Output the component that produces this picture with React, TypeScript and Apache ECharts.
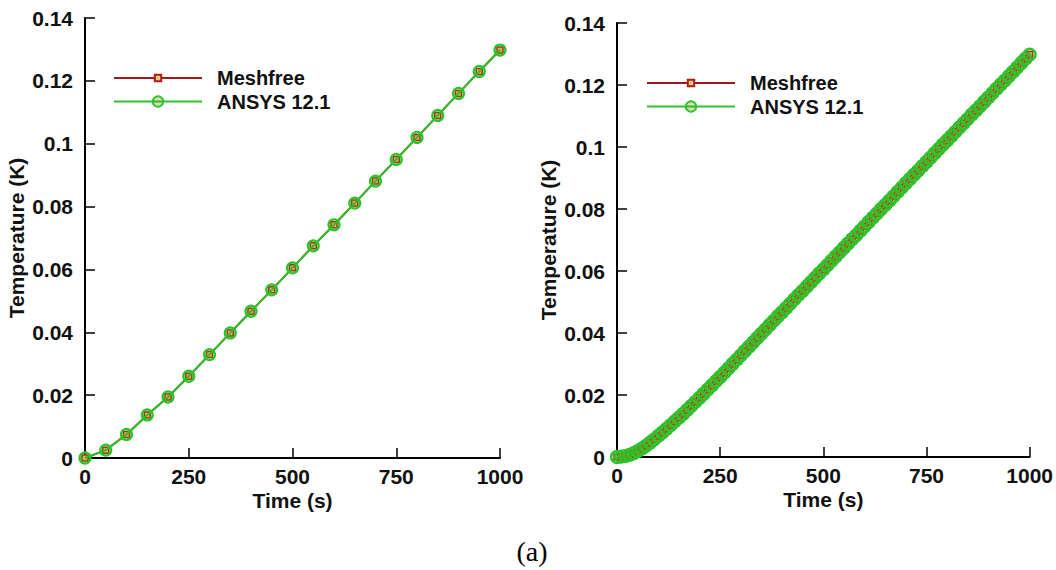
import React, { useEffect, useRef } from "react";
import * as echarts from "echarts";

// Coarse output (every 50 s)
const timeCoarse = [0, 50, 100, 150, 200, 250, 300, 350, 400, 450, 500, 550, 600, 650, 700, 750, 800, 850, 900, 950, 1000];
const meshfreeCoarse = [0, 0.0025, 0.0075, 0.0137, 0.0194, 0.026, 0.0329, 0.0398, 0.0467, 0.0535, 0.0605, 0.0675, 0.0742, 0.0811, 0.0881, 0.095, 0.102, 0.109, 0.116, 0.123, 0.1298];
const ansysCoarse = [0, 0.0025, 0.0075, 0.0137, 0.0194, 0.026, 0.0329, 0.0398, 0.0467, 0.0535, 0.0605, 0.0675, 0.0742, 0.0811, 0.0881, 0.095, 0.102, 0.109, 0.116, 0.123, 0.1298];

// Fine output (every 10 s)
const timeFine = [
  0, 10, 20, 30, 40, 50, 60, 70, 80, 90, 100, 110, 120, 130, 140, 150, 160, 170, 180, 190, 200,
  210, 220, 230, 240, 250, 260, 270, 280, 290, 300, 310, 320, 330, 340, 350, 360, 370, 380, 390, 400,
  410, 420, 430, 440, 450, 460, 470, 480, 490, 500, 510, 520, 530, 540, 550, 560, 570, 580, 590, 600,
  610, 620, 630, 640, 650, 660, 670, 680, 690, 700, 710, 720, 730, 740, 750, 760, 770, 780, 790, 800,
  810, 820, 830, 840, 850, 860, 870, 880, 890, 900, 910, 920, 930, 940, 950, 960, 970, 980, 990, 1000,
];
const meshfreeFine = [
  0, 0.0001, 0.0003, 0.0007, 0.0012, 0.0019, 0.0027, 0.0036, 0.0046, 0.0057, 0.0068,
  0.0079, 0.0091, 0.0103, 0.0115, 0.0127, 0.0139, 0.0152, 0.0165, 0.0178, 0.0191,
  0.0204, 0.0218, 0.0231, 0.0245, 0.0258, 0.0272, 0.0286, 0.03, 0.0314, 0.0328,
  0.0342, 0.0356, 0.037, 0.0384, 0.0398, 0.0412, 0.0426, 0.044, 0.0454, 0.0467,
  0.0481, 0.0495, 0.0509, 0.0523, 0.0536, 0.055, 0.0564, 0.0578, 0.0592, 0.0605,
  0.0619, 0.0633, 0.0647, 0.0661, 0.0675, 0.0689, 0.0703, 0.0716, 0.073, 0.0744,
  0.0758, 0.0772, 0.0786, 0.08, 0.0813, 0.0827, 0.0841, 0.0855, 0.0869, 0.0883,
  0.0897, 0.0911, 0.0924, 0.0938, 0.0952, 0.0966, 0.098, 0.0994, 0.1008, 0.1021,
  0.1035, 0.1049, 0.1063, 0.1077, 0.1091, 0.1105, 0.1118, 0.1132, 0.1146, 0.116,
  0.1174, 0.1188, 0.1202, 0.1215, 0.1229, 0.1243, 0.1257, 0.1271, 0.1285, 0.1298,
];
const ansysFine = [
  0, 0.0001, 0.0003, 0.0007, 0.0012, 0.0019, 0.0027, 0.0036, 0.0046, 0.0057, 0.0068,
  0.0079, 0.0091, 0.0103, 0.0115, 0.0127, 0.0139, 0.0152, 0.0165, 0.0178, 0.0191,
  0.0204, 0.0218, 0.0231, 0.0245, 0.0258, 0.0272, 0.0286, 0.03, 0.0314, 0.0328,
  0.0342, 0.0356, 0.037, 0.0384, 0.0398, 0.0412, 0.0426, 0.044, 0.0454, 0.0467,
  0.0481, 0.0495, 0.0509, 0.0523, 0.0536, 0.055, 0.0564, 0.0578, 0.0592, 0.0605,
  0.0619, 0.0633, 0.0647, 0.0661, 0.0675, 0.0689, 0.0703, 0.0716, 0.073, 0.0744,
  0.0758, 0.0772, 0.0786, 0.08, 0.0813, 0.0827, 0.0841, 0.0855, 0.0869, 0.0883,
  0.0897, 0.0911, 0.0924, 0.0938, 0.0952, 0.0966, 0.098, 0.0994, 0.1008, 0.1021,
  0.1035, 0.1049, 0.1063, 0.1077, 0.1091, 0.1105, 0.1118, 0.1132, 0.1146, 0.116,
  0.1174, 0.1188, 0.1202, 0.1215, 0.1229, 0.1243, 0.1257, 0.1271, 0.1285, 0.1298,
];

const timeTicks = [0, 250, 500, 750, 1000];
const tempTicks = [0, 0.02, 0.04, 0.06, 0.08, 0.1, 0.12, 0.14];

const SERIES_MESHFREE = "Meshfree";
const SERIES_ANSYS = "ANSYS 12.1";
const CAPTION = "(a)";

const FONT = '"Liberation Sans", Arial, Helvetica, sans-serif';
const RED = "#9e1a1a";
const GREEN = "#2cc42c";

const labelStyle = {
  color: "#111",
  fontFamily: FONT,
  fontWeight: "bold" as const,
  fontSize: 21,
};

function pairs(xs: number[], ys: number[]) {
  return xs.map((x, i) => [x, ys[i]]);
}

function xAxisFor(gridIndex: number) {
  return {
    gridIndex,
    type: "value",
    min: timeTicks[0],
    max: timeTicks[timeTicks.length - 1],
    interval: timeTicks[1] - timeTicks[0],
    name: "Time (s)",
    nameLocation: "middle",
    nameGap: 32,
    nameMoveOverlap: false,
    nameTextStyle: { ...labelStyle, fontSize: 21 },
    axisLine: { show: true, onZero: false, lineStyle: { color: "#000", width: 2 } },
    axisTick: { show: true, inside: true, length: 10, lineStyle: { color: "#000", width: 1.5 } },
    splitLine: { show: false },
    axisLabel: { ...labelStyle, margin: 8, formatter: (v: number) => String(v) },
  };
}

function yAxisFor(gridIndex: number) {
  return {
    gridIndex,
    type: "value",
    min: tempTicks[0],
    max: tempTicks[tempTicks.length - 1],
    interval: tempTicks[1] - tempTicks[0],
    name: "Temperature (K)",
    nameLocation: "middle",
    nameGap: 58,
    nameMoveOverlap: false,
    nameTextStyle: { ...labelStyle, fontSize: 21 },
    axisLine: { show: true, onZero: false, lineStyle: { color: "#000", width: 2 } },
    axisTick: { show: true, inside: true, length: 10, lineStyle: { color: "#000", width: 1.5 } },
    splitLine: { show: false },
    axisLabel: { ...labelStyle, margin: 12 },
  };
}

function meshfreeSeries(idx: number, data: number[][]) {
  return {
    name: SERIES_MESHFREE,
    type: "line",
    xAxisIndex: idx,
    yAxisIndex: idx,
    data,
    symbol: "rect",
    symbolSize: 6,
    showAllSymbol: true,
    lineStyle: { color: RED, width: 2 },
    itemStyle: { color: "#e6d27a", borderColor: "#b3191b", borderWidth: 1.5 },
    z: 2,
  };
}

function ansysSeries(idx: number, data: number[][], size: number) {
  return {
    name: SERIES_ANSYS,
    type: "line",
    xAxisIndex: idx,
    yAxisIndex: idx,
    data,
    symbol: "circle",
    symbolSize: size,
    showAllSymbol: true,
    lineStyle: { color: GREEN, width: 2 },
    itemStyle: { color: "rgba(120,140,20,0.3)", borderColor: GREEN, borderWidth: 2.2 },
    z: 3,
  };
}

function legendFor(name: string, left: number, centerY: number, itemHeight: number) {
  return {
    data: [name],
    left,
    top: centerY - itemHeight / 2,
    padding: 0,
    itemWidth: 88,
    itemHeight,
    selectedMode: false,
    textStyle: { ...labelStyle, fontSize: 20, padding: [0, 0, 0, 10] },
  };
}

export default function App() {
  const ref = useRef<HTMLDivElement>(null);

  useEffect(() => {
    if (!ref.current) return;
    const chart = echarts.init(ref.current, undefined, { renderer: "svg" });
    chart.setOption({
      animation: false,
      backgroundColor: "#fff",
      grid: [
        { left: 85, top: 18, width: 415, height: 440 },
        { left: 617, top: 23, width: 414, height: 434 },
      ],
      xAxis: [xAxisFor(0), xAxisFor(1)],
      yAxis: [yAxisFor(0), yAxisFor(1)],
      legend: [
        legendFor(SERIES_MESHFREE, 113, 72, 8),
        legendFor(SERIES_ANSYS, 113, 98, 13),
        legendFor(SERIES_MESHFREE, 646, 77, 8),
        legendFor(SERIES_ANSYS, 646, 103, 13),
      ],
      series: [
        meshfreeSeries(0, pairs(timeCoarse, meshfreeCoarse)),
        ansysSeries(0, pairs(timeCoarse, ansysCoarse), 11),
        meshfreeSeries(1, pairs(timeFine, meshfreeFine)),
        ansysSeries(1, pairs(timeFine, ansysFine), 12),
      ],
      graphic: [
        {
          type: "text",
          x: 532,
          y: 551,
          style: {
            text: CAPTION,
            font: '28px "Liberation Serif", "DejaVu Serif", serif',
            fill: "#000",
            textAlign: "center",
            textVerticalAlign: "middle",
          },
        },
      ],
    });
    return () => chart.dispose();
  }, []);

  return (
    <div
      ref={ref}
      style={{ position: "fixed", left: 0, top: 0, width: 1056, height: 570, background: "#fff" }}
    />
  );
}
